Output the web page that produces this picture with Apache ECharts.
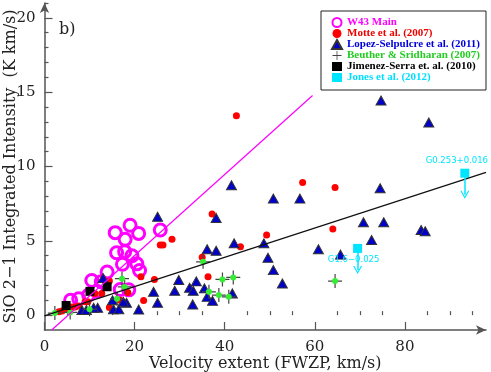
<!DOCTYPE html>
<html><head><meta charset="utf-8">
<script src="https://cdn.jsdelivr.net/npm/echarts@6/dist/echarts.min.js"></script>
<style>html,body{margin:0;padding:0;background:#fff}#c{width:491px;height:372px}</style>
</head><body><div id="c"></div>
<script>
// ---- data (velocity extent km/s, integrated intensity K km/s) ----
const w43Main = [[25.7,5.73],[19.0,6.05],[20.9,5.5],[15.7,5.55],[17.9,5.1],[16.0,4.2],[17.8,4.27],[19.4,4.0],
  [17.3,3.42],[20.5,3.45],[21.1,3.0],[13.9,2.9],[10.5,2.33],[12.6,2.25],[16.8,1.72],[18.7,1.7],
  [5.8,1.0],[7.6,1.1],[9.8,1.35],[11.6,1.6]];
const motte = [[42.6,13.41],[57.3,8.92],[64.5,8.58],[49.3,5.39],[64.0,5.80],[37.2,6.81],[25.7,4.72],[26.3,4.72],
  [28.3,5.10],[43.5,4.60],[35.0,3.89],[36.3,2.58],[24.4,2.40],[21.4,2.58],[14.4,2.30],[12.7,1.46],[18.5,1.52],
  [16.8,1.0],[14.4,0.52],[22.0,0.98],[9.0,0.9],[3.2,0.22],[3.9,0.28],[4.9,0.38],[6.1,0.54],[6.8,0.54],
  [7.6,0.62],[9.6,0.9],[11.2,1.46]];
const lopez = [[74.7,14.44],[85.3,12.96],[74.5,8.54],[70.8,6.25],[75.3,6.25],[83.6,5.73],[84.5,5.64],[72.6,5.05],
  [50.8,7.84],[56.7,7.84],[48.7,4.83],[49.6,3.86],[50.8,3.03],[52.8,2.13],[60.8,4.43],[65.7,4.07],[41.5,8.74],
  [25.1,6.62],[38.1,6.54],[42.1,4.83],[36.1,4.43],[38.1,4.33],[29.8,2.36],[33.7,2.27],[24.2,1.57],[28.9,1.64],
  [32.2,1.84],[33.0,1.64],[35.5,1.8],[36.1,1.23],[37.3,0.96],[41.7,1.46],[25.1,0.83],[32.9,0.72],[13.0,2.5],
  [15.1,1.0],[11.8,0.5],[10.9,0.5],[8.3,0.34],[9.3,0.34],[15.3,0.4],[16.5,0.4],[18.2,0.83],[20.9,0.38],[17.5,0.9]];
const beuther = [[64.5,2.29],[35.2,3.59],[39.5,2.40],[41.9,2.54],[36.5,1.57],[38.7,1.35],[40.9,1.23],[17.2,2.45],
  [17.8,1.90],[2.3,0.14],[5.7,0.18],[10.0,0.40],[16.1,1.10]];
const jimenez = [[10.1,1.6],[13.9,1.91],[4.8,0.65]];
const jones = [[93.3,9.55],[69.5,4.49]];
const jonesNames = ['G0.253+0.016','G1.6\u22120.025'];
const w43Fit = [[1.6,-1],[59.5,14.78]];
const allFit = [[0,-0.05],[98,9.6]];
const xMajor = [0,20,40,60,80];
const xMinor = [5,10,15,25,30,35,45,50,55,65,70,75,85,90,95];
const yMajor = [0,5,10,15,20];
const yMinor = [1,2,3,4,6,7,8,9,11,12,13,14,16,17,18,19,21];
const upperLimitArrow = 1.45;

const SERIF = 'DejaVu Serif';
const axisCol = '#555';
const vArrow = 'path://M5,0L10,8L8.6,8L5,2.2L1.4,8L0,8Z';
const cross = 'path://M0,6.4H14V7.6H0Z M6.4,0H7.6V14H6.4Z';

function baseX(extra){return Object.assign({type:'value',min:0,max:98,gridIndex:0},extra);}
function baseY(extra){return Object.assign({type:'value',min:-1,max:21,gridIndex:0},extra);}

const chart = echarts.init(document.getElementById('c'),null,{renderer:'canvas'});
chart.setOption({
  animation:false,
  backgroundColor:'#fff',
  title:{text:'b)',left:54,top:17,textStyle:{fontFamily:SERIF,fontSize:16,fontWeight:'normal',color:'#222'}},
  grid:{left:44.5,right:5,top:3,bottom:42,containLabel:false,outerBoundsMode:'none'},
  xAxis:[
    baseX({name:'Velocity extent (FWZP, km/s)',nameLocation:'middle',nameGap:26,nameMoveOverlap:false,
      nameTextStyle:{fontFamily:SERIF,fontSize:16,color:'#222'},
      axisLine:{onZero:false,lineStyle:{color:axisCol,width:1.5},symbol:['none','arrow'],symbolSize:[7,10]},
      axisTick:{inside:true,length:8,lineStyle:{color:axisCol,width:1.2},customValues:xMajor},
      axisLabel:{customValues:xMajor,margin:10,fontFamily:SERIF,fontSize:15,color:'#222'},
      splitLine:{show:false}}),
    baseX({axisLine:{show:false},axisTick:{inside:true,length:4,lineStyle:{color:axisCol,width:1.2},customValues:xMinor},
      axisLabel:{show:false},splitLine:{show:false},position:'bottom'})
  ],
  yAxis:[
    baseY({name:'SiO 2\u22121 Integrated Intensity  (K km/s)',nameLocation:'middle',nameGap:26,nameMoveOverlap:false,
      nameTextStyle:{fontFamily:SERIF,fontSize:16,color:'#222'},
      axisLine:{onZero:false,lineStyle:{color:axisCol,width:1.5},symbol:['none','arrow'],symbolSize:[7,10]},
      axisTick:{inside:true,length:8,lineStyle:{color:axisCol,width:1.2},customValues:yMajor},
      axisLabel:{customValues:yMajor,margin:9,fontFamily:SERIF,fontSize:15,color:'#222'},
      splitLine:{show:false}}),
    baseY({axisLine:{show:false},axisTick:{inside:true,length:4,lineStyle:{color:axisCol,width:1.2},customValues:yMinor},
      axisLabel:{show:false},splitLine:{show:false},position:'left'})
  ],
  legend:{orient:'vertical',left:321,top:11,padding:[6,6,7,10],itemGap:0,itemWidth:10,itemHeight:9,
    borderColor:'#222',borderWidth:1,backgroundColor:'#fff',
    textStyle:{fontFamily:'Liberation Serif',fontSize:11,lineHeight:10,fontWeight:'bold'},
    data:[
      {name:'W43 Main',textStyle:{color:'#ff00ff'}},
      {name:'Motte et al. (2007)',textStyle:{color:'#ee0000'}},
      {name:'Lopez-Selpulcre et al. (2011)',textStyle:{color:'#0000dd'}},
      {name:'Beuther & Sridharan (2007)',textStyle:{color:'#22cc22'}},
      {name:'Jimenez-Serra et. al. (2010)',textStyle:{color:'#000'}},
      {name:'Jones et al. (2012)',textStyle:{color:'#00dfff'}}
    ]},
  series:[
    {type:'scatter',name:'W43 Main',data:w43Main,symbol:'circle',symbolSize:12,
      itemStyle:{color:'rgba(255,255,255,0)',borderColor:'#ff00ff',borderWidth:3,opacity:1}},
    {type:'line',name:'w43fit',data:w43Fit,symbol:'none',silent:true,lineStyle:{color:'#ff00ff',width:1.2}},
    {type:'line',name:'allfit',data:allFit,symbol:'none',silent:true,lineStyle:{color:'#111',width:1.2}},
    {type:'scatter',name:'Motte et al. (2007)',data:motte,symbol:'circle',symbolSize:7,
      itemStyle:{color:'#ff0000',opacity:1}},
    {type:'scatter',name:'Lopez-Selpulcre et al. (2011)',data:lopez,symbol:'triangle',symbolSize:[10,9],
      itemStyle:{color:'#0000cc',borderColor:'#333',borderWidth:1,opacity:1}},
    {type:'scatter',name:'Beuther & Sridharan (2007)',data:beuther,symbol:cross,symbolSize:14,
      itemStyle:{color:'#444',opacity:1}},
    {type:'scatter',name:'Beuther & Sridharan (2007)',data:beuther,symbol:'circle',symbolSize:6,
      itemStyle:{color:'#33ee33',opacity:1}},
    {type:'scatter',name:'Jimenez-Serra et. al. (2010)',data:jimenez,symbol:'rect',symbolSize:9,
      itemStyle:{color:'#000',opacity:1}},
    {type:'scatter',name:'Jones et al. (2012)',symbol:'rect',symbolSize:9,
      itemStyle:{color:'#00e5ff',opacity:1},
      data:jones.map((p,i)=>({value:p,name:jonesNames[i],
        label:{show:true,formatter:'{b}',position:i===0?'top':'bottom',distance:i===0?3:2,offset:i===0?[-8,0]:[-4,0],
          color:'#00e5ff',fontFamily:'DejaVu Sans',fontSize:8.5}})),
      markLine:{silent:true,symbol:['none',vArrow],symbolSize:[9,8],animation:false,
        lineStyle:{color:'#00e5ff',width:1.5,type:'solid'},label:{show:false},
        data:jones.map(p=>[{coord:p},{coord:[p[0],p[1]-upperLimitArrow]}])}}
  ]
});
</script></body></html>
